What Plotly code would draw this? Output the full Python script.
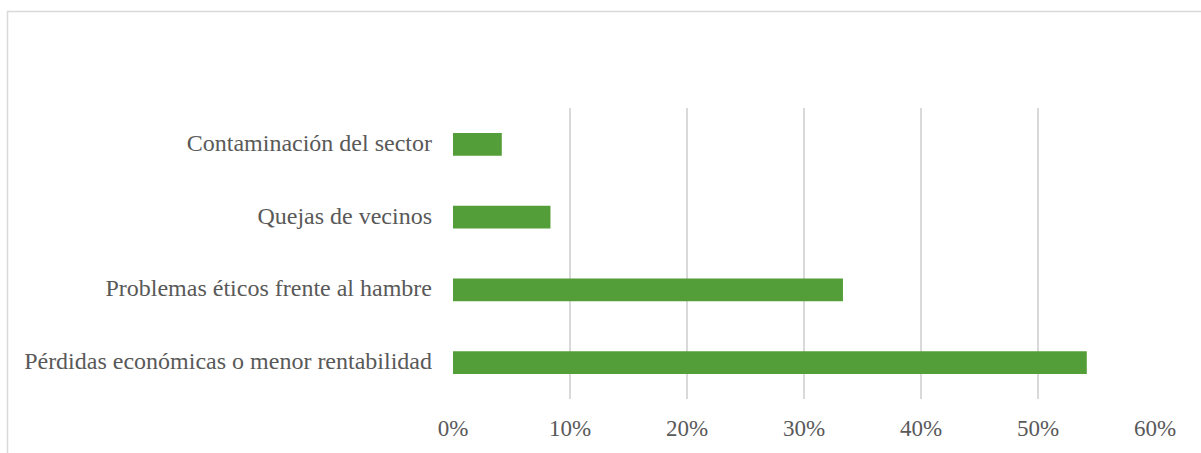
import plotly.graph_objects as go

# Survey reasons (top to bottom) and share of responses (%)
categories = [
    "Contaminación del sector",
    "Quejas de vecinos",
    "Problemas éticos frente al hambre",
    "Pérdidas económicas o menor rentabilidad",
]
shares = [4.17, 8.33, 33.33, 54.17]
tick_values = [0, 10, 20, 30, 40, 50, 60]
tick_labels = ["0%", "10%", "20%", "30%", "40%", "50%", "60%"]

W, H = 1201, 453
ML, MR, MT, MB = 453, 46, 108, 54
plot_w = W - ML - MR
plot_h = H - MT - MB

GREY_TXT = "#595959"
GRID = "#d9d9d9"
FONT = "Liberation Serif, Times New Roman, serif"

fig = go.Figure(
    go.Bar(
        x=shares,
        y=categories,
        orientation="h",
        marker=dict(color="#549E39", line=dict(width=0)),
        width=0.31,
        hoverinfo="skip",
    )
)


def px_to_paper_x(px):
    return (px - ML) / plot_w


def px_to_paper_y(py):
    return (H - MB - py) / plot_h


# Light outer chart-area frame
fig.add_shape(
    type="rect",
    xref="paper",
    yref="paper",
    x0=px_to_paper_x(7.5),
    x1=px_to_paper_x(W + 20),
    y0=px_to_paper_y(H + 20),
    y1=px_to_paper_y(11.5),
    line=dict(color=GRID, width=1.5),
    fillcolor="rgba(0,0,0,0)",
    layer="below",
)

fig.update_layout(
    width=W,
    height=H,
    margin=dict(l=ML, r=MR, t=MT, b=MB, pad=0),
    paper_bgcolor="white",
    plot_bgcolor="white",
    showlegend=False,
    font=dict(family=FONT, size=23, color=GREY_TXT),
    xaxis=dict(
        range=[0, 60],
        tickvals=tick_values,
        ticktext=tick_labels,
        showgrid=True,
        gridcolor=GRID,
        gridwidth=1.5,
        zeroline=False,
        showline=False,
        ticks="",
        ticklabelstandoff=13,
        tickfont=dict(family=FONT, size=23, color=GREY_TXT),
        fixedrange=True,
    ),
    yaxis=dict(
        categoryorder="array",
        categoryarray=categories,
        autorange="reversed",
        showgrid=False,
        zeroline=False,
        showline=False,
        ticks="",
        ticklabelstandoff=20,
        ticklabelshift=2,
        tickfont=dict(family=FONT, size=24, color=GREY_TXT),
        fixedrange=True,
    ),
)

fig.write_html("out.html")
